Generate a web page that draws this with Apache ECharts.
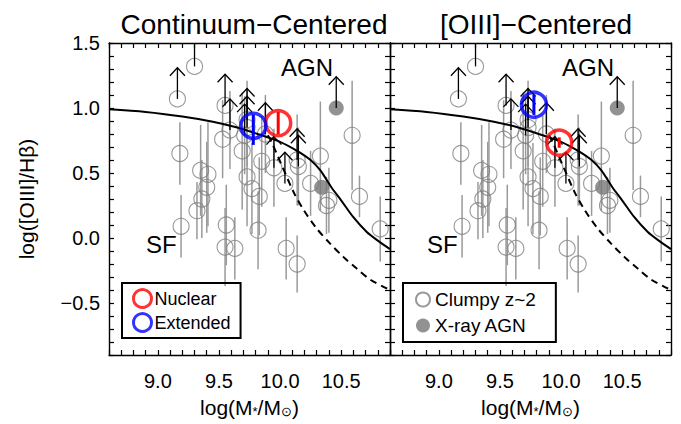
<!DOCTYPE html>
<html>
<head>
<meta charset="utf-8">
<script src="https://cdn.jsdelivr.net/npm/echarts@6/dist/echarts.min.js"></script>
<style>
html, body { margin: 0; padding: 0; background: #fff; }
#main { width: 681px; height: 424px; }
</style>
</head>
<body>
<div id="main"></div>
<script>
// clumpy z~2 galaxies: [log M*, log([OIII]/Hb), error]
var clumpy = [
    [9.30, 1.32, 0], [9.16, 1.07, 0], [9.55, 1.02, 0], [9.59, 0.83, 0.30],
    [9.53, 0.76, 0.30], [9.69, 0.67, 0.45], [9.18, 0.65, 0.24], [9.35, 0.52, 0.35],
    [9.41, 0.49, 0.40], [9.40, 0.39, 0.35], [9.36, 0.30, 0.30], [9.32, 0.21, 0.22],
    [9.19, 0.09, 0.24], [9.56, 0.10, 0.31], [9.55, -0.07, 0.30], [9.63, -0.08, 0.24],
    [9.73, 0.47, 0.38], [9.77, 0.38, 0.35], [9.83, 0.32, 0.30], [9.82, 0.06, 0.30],
    [9.85, 0.59, 0.35], [9.95, 0.54, 0.30], [10.04, 0.42, 0], [10.14, 0.60, 0.35],
    [10.15, 0.55, 0.30], [10.05, -0.08, 0.24], [10.14, -0.20, 0.22], [10.25, 0.42, 0.25],
    [10.33, 0.63, 0.42], [10.38, 0.25, 0.22], [10.40, 0.29, 0.25], [10.59, 0.79, 0.42],
    [10.65, 0.32, 0.16], [10.82, 0.07, 0.25], [9.73, 0.91, 0.30], [9.73, 0.85, 0.30],
    [9.71, 0.79, 0.30], [9.88, 0.80, 0.30]
];
// lower limits (arrows)
var clumpyLimits = [
    [9.30, 1.32], [9.16, 1.07], [9.55, 1.02], [9.59, 0.83], [9.95, 0.54],
    [10.04, 0.42], [10.14, 0.60], [10.15, 0.55], [9.73, 0.91], [9.73, 0.85],
    [9.71, 0.79], [9.88, 0.80]
];
var xray = [[10.46, 1.00], [10.34, 0.39]];
var xrayLimits = [[10.46, 1.00]];

// demarcation curves
var curveUpper = [
    [8.6, 0.99], [8.9, 0.97], [9.2, 0.935], [9.45, 0.895], [9.65, 0.85], [9.85, 0.79],
    [10.0, 0.74], [10.15, 0.665], [10.25, 0.60], [10.33, 0.52], [10.42, 0.39],
    [10.5, 0.29], [10.6, 0.16], [10.71, 0.046], [10.8, -0.02], [10.9, -0.085]
];
var curveLower = [
    [9.9, 0.79], [9.93, 0.74], [10.11, 0.355], [10.19, 0.22], [10.3, 0.073],
    [10.41, -0.043], [10.52, -0.147], [10.63, -0.237], [10.74, -0.321], [10.87, -0.386], [10.9, -0.40]
];

// [log M*, y, err below, err above]
var nuclearCont = [[9.985, 0.884, 0.085, 0.085]];
var extendedCont = [[9.781, 0.863, 0.147, 0.085]];
var nuclearOiii = [[9.985, 0.734, 0.04, 0.04]];
var extendedOiii = [[9.778, 1.025, 0.078, 0.078]];

var xTickVals = [9.0, 9.5, 10.0, 10.5];
var xTickText = ['9.0', '9.5', '10.0', '10.5'];
var yTickVals = [-0.5, 0.0, 0.5, 1.0, 1.5];
var yTickText = ['\u22120.5', '0.0', '0.5', '1.0', '1.5'];

var FONT = '"Liberation Sans", Arial, sans-serif';
var GRAY = '#808080';
var ARROW_LEN = 0.24;

function fmt(vals, texts) {
    return function (v) {
        for (var i = 0; i < vals.length; i++) {
            if (Math.abs(v - vals[i]) < 1e-6) return texts[i];
        }
        return '';
    };
}

function errRender(color, width, asym) {
    return function (params, api) {
        var x = api.value(0), y = api.value(1);
        var lo = api.value(2), hi = asym ? api.value(3) : lo;
        if (!lo && !hi) return null;
        var cs = params.coordSys;
        var p1 = api.coord([x, y - lo]), p2 = api.coord([x, y + hi]);
        var y1 = Math.min(p1[1], cs.y + cs.height), y2 = Math.max(p2[1], cs.y);
        return {
            type: 'line',
            shape: { x1: p1[0], y1: y1, x2: p2[0], y2: y2 },
            style: { stroke: color, lineWidth: width }
        };
    };
}

function arrowRender(params, api) {
    var x = api.value(0), y = api.value(1);
    var cs = params.coordSys;
    var p0 = api.coord([x, y]), p1 = api.coord([x, y + ARROW_LEN]);
    var top = Math.max(p1[1], cs.y);
    var kids = [{
        type: 'line',
        shape: { x1: p0[0], y1: p0[1], x2: p0[0], y2: top },
        style: { stroke: '#000', lineWidth: 1.3 }
    }];
    if (p1[1] >= cs.y) {
        kids.push({
            type: 'polyline',
            shape: { points: [[p1[0] - 7.5, p1[1] + 8], [p1[0], p1[1]], [p1[0] + 7.5, p1[1] + 8]] },
            style: { stroke: '#000', fill: null, lineWidth: 1.3 }
        });
    }
    return { type: 'group', children: kids };
}

function panelSeries(xi, yi, nuc, ext) {
    return [
        { type: 'custom', xAxisIndex: xi, yAxisIndex: yi, renderItem: errRender('#9a9a9a', 1.5, false),
          data: clumpy, z: 1, silent: true },
        { type: 'scatter', name: 'Clumpy z~2', xAxisIndex: xi, yAxisIndex: yi, data: clumpy,
          symbol: 'circle', symbolSize: 16, z: 2,
          itemStyle: { color: 'rgba(0,0,0,0)', borderColor: GRAY, borderWidth: 1.1 } },
        { type: 'scatter', name: 'X-ray AGN', xAxisIndex: xi, yAxisIndex: yi, data: xray,
          symbol: 'circle', symbolSize: 15, z: 2, itemStyle: { color: '#777' } },
        { type: 'line', xAxisIndex: xi, yAxisIndex: yi, data: curveUpper, smooth: 0.3,
          showSymbol: false, z: 3, lineStyle: { color: '#000', width: 2 } },
        { type: 'line', xAxisIndex: xi, yAxisIndex: yi, data: curveLower, smooth: 0.3,
          showSymbol: false, z: 3, lineStyle: { color: '#000', width: 2, type: [7, 5] } },
        { type: 'custom', xAxisIndex: xi, yAxisIndex: yi, renderItem: arrowRender,
          data: clumpyLimits.concat(xrayLimits), z: 4, silent: true },
        { type: 'custom', xAxisIndex: xi, yAxisIndex: yi, renderItem: errRender('#ff0000', 3, true),
          data: nuc, z: 5, silent: true },
        { type: 'custom', xAxisIndex: xi, yAxisIndex: yi, renderItem: errRender('#0000ff', 3, true),
          data: ext, z: 5, silent: true },
        { type: 'scatter', name: 'Nuclear', xAxisIndex: xi, yAxisIndex: yi, data: nuc,
          symbol: 'circle', symbolSize: 25, z: 6,
          itemStyle: { color: 'rgba(0,0,0,0)', borderColor: '#ff0000', borderWidth: 3.5 } },
        { type: 'scatter', name: 'Extended', xAxisIndex: xi, yAxisIndex: yi, data: ext,
          symbol: 'circle', symbolSize: 25, z: 6,
          itemStyle: { color: 'rgba(0,0,0,0)', borderColor: '#0000ff', borderWidth: 3.5 } }
    ];
}

function xAx(grid, pos, labels) {
    return {
        type: 'value', gridIndex: grid, position: pos, min: 8.6, max: 10.9, interval: 0.1,
        axisLine: { show: true, onZero: false, lineStyle: { color: '#000', width: 1.4 } },
        axisTick: { show: true, inside: true, length: 5, lineStyle: { color: '#000', width: 1.2 } },
        axisLabel: { show: labels, formatter: fmt(xTickVals, xTickText), margin: 16,
                     color: '#000', fontSize: 20, fontFamily: FONT },
        splitLine: { show: false },
        name: labels ? 'log(M{s|*}/M{s|\u2299})' : '',
        nameLocation: 'middle', nameGap: 42,
        nameTextStyle: { color: '#000', fontSize: 21, fontFamily: FONT,
            rich: { s: { fontSize: 13, fontFamily: FONT, verticalAlign: 'bottom', lineHeight: 10 } } }
    };
}

function yAx(grid, pos, labels) {
    return {
        type: 'value', gridIndex: grid, position: pos, min: -0.9, max: 1.5, interval: 0.1,
        axisLine: { show: true, onZero: false, lineStyle: { color: '#000', width: 1.4 } },
        axisTick: { show: true, inside: true, length: 5, lineStyle: { color: '#000', width: 1.2 } },
        axisLabel: { show: labels, formatter: fmt(yTickVals, yTickText), margin: 9,
                     color: '#000', fontSize: 20, fontFamily: FONT },
        splitLine: { show: false },
        name: labels ? 'log([OIII]/H\u03b2)' : '',
        nameLocation: 'middle', nameGap: 72, nameRotate: 90,
        nameTextStyle: { color: '#000', fontSize: 21, fontFamily: FONT }
    };
}

var textStyleBig = { fill: '#000', fontSize: 24, fontFamily: FONT };

var option = {
    animation: false,
    backgroundColor: '#fff',
    title: [
        { text: 'Continuum\u2212Centered', left: 249, top: 5, textAlign: 'center',
          textStyle: { color: '#000', fontSize: 28, fontWeight: 'normal', fontFamily: FONT } },
        { text: '[OIII]\u2212Centered', left: 531, top: 5, textAlign: 'center',
          textStyle: { color: '#000', fontSize: 28, fontWeight: 'normal', fontFamily: FONT } }
    ],
    grid: [
        { left: 109, top: 43, width: 281, height: 312 },
        { left: 390, top: 43, width: 281, height: 312 }
    ],
    xAxis: [xAx(0, 'bottom', true), xAx(0, 'top', false), xAx(1, 'bottom', true), xAx(1, 'top', false)],
    yAxis: [yAx(0, 'left', true), yAx(0, 'right', false), yAx(1, 'left', false), yAx(1, 'right', false)],
    legend: [
        { orient: 'vertical', left: 122, top: 283, itemGap: 3, itemWidth: 18, itemHeight: 18,
          padding: [5, 10, 5, 10], borderColor: '#000', borderWidth: 2, selectedMode: false,
          textStyle: { color: '#000', fontSize: 18, fontFamily: FONT, padding: [0, 0, 0, -2] },
          data: [
              { name: 'Nuclear', icon: 'circle', itemStyle: { color: 'rgba(0,0,0,0)', borderColor: '#ff0000', borderWidth: 3 } },
              { name: 'Extended', icon: 'circle', itemStyle: { color: 'rgba(0,0,0,0)', borderColor: '#0000ff', borderWidth: 3 } }
          ] },
        { orient: 'vertical', left: 403, top: 283, itemGap: 7, itemWidth: 14, itemHeight: 14,
          padding: [7, 20, 7, 12], borderColor: '#000', borderWidth: 2, selectedMode: false,
          textStyle: { color: '#000', fontSize: 19, fontFamily: FONT },
          data: [
              { name: 'Clumpy z~2', icon: 'circle', itemStyle: { color: 'rgba(0,0,0,0)', borderColor: GRAY, borderWidth: 2 } },
              { name: 'X-ray AGN', icon: 'circle', itemStyle: { color: '#777', borderWidth: 0 } }
          ] }
    ],
    graphic: [
        { type: 'text', left: 281, top: 55, style: Object.assign({ text: 'AGN' }, textStyleBig) },
        { type: 'text', left: 562, top: 55, style: Object.assign({ text: 'AGN' }, textStyleBig) },
        { type: 'text', left: 146, top: 232, style: Object.assign({ text: 'SF' }, textStyleBig) },
        { type: 'text', left: 427, top: 232, style: Object.assign({ text: 'SF' }, textStyleBig) }
    ],
    series: panelSeries(0, 0, nuclearCont, extendedCont).concat(panelSeries(2, 2, nuclearOiii, extendedOiii))
};

var chart = echarts.init(document.getElementById('main'), null, { renderer: 'svg' });
chart.setOption(option);
</script>
</body>
</html>
